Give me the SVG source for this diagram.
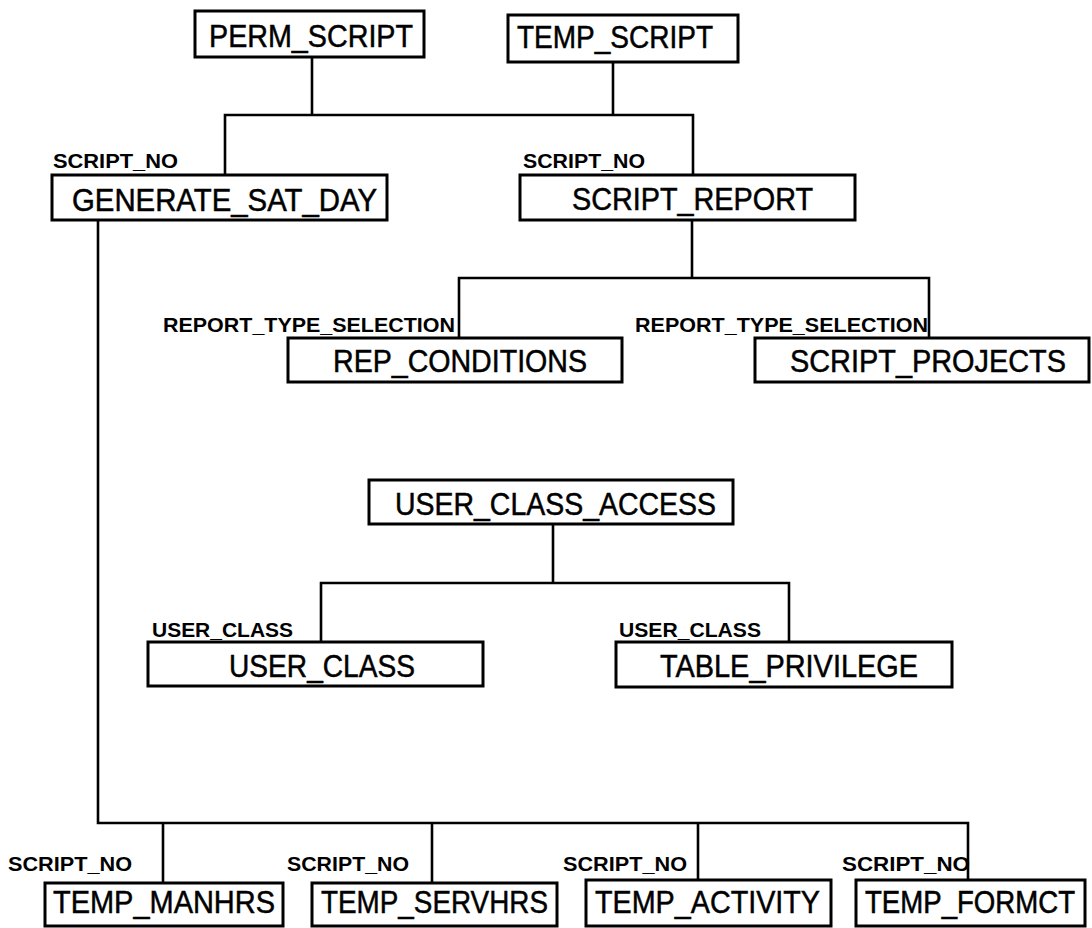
<svg xmlns="http://www.w3.org/2000/svg" width="1092" height="928" viewBox="0 0 1092 928">
<style>
.box{fill:#fff;stroke:#000;stroke-width:3}
.t{font-family:"Liberation Sans",Arial,sans-serif;font-size:31px;fill:#000;stroke:#000;stroke-width:0.5}
.tb{font-family:"Liberation Sans",Arial,sans-serif;font-size:32px;fill:#000;stroke:#000;stroke-width:0.5}
.lbl{font-family:"Liberation Sans",Arial,sans-serif;font-size:21px;font-weight:bold;fill:#000}
.c{fill:none;stroke:#000;stroke-width:2.6}
</style>
<rect width="1092" height="928" fill="#fff"/>
<g id="connectors">
<path class="c" d="M312,57 V115 M613,62 V115 M225,175 V115 H693 V175"/>
<path class="c" d="M692,220 V278 M459,338 V278 H929 V338"/>
<path class="c" d="M553,524 V583 M321,642 V583 H789 V642"/>
<path class="c" d="M98,220 V823 H968 V880 M163,823 V883 M432,823 V883 M698,823 V880"/>
</g>
<g id="PERM_SCRIPT">
<rect class="box" x="195" y="11" width="229" height="46"/>
<text class="t" x="209" y="47" textLength="204" lengthAdjust="spacingAndGlyphs">PERM_SCRIPT</text>
</g>
<g id="TEMP_SCRIPT">
<rect class="box" x="508" y="15" width="230" height="47"/>
<text class="t" x="517" y="48" textLength="196" lengthAdjust="spacingAndGlyphs">TEMP_SCRIPT</text>
</g>
<g id="GENERATE_SAT_DAY">
<text class="lbl" x="53" y="168" textLength="125" lengthAdjust="spacingAndGlyphs">SCRIPT_NO</text>
<rect class="box" x="52" y="175" width="335" height="45"/>
<text class="t" x="72" y="211" textLength="305" lengthAdjust="spacingAndGlyphs">GENERATE_SAT_DAY</text>
</g>
<g id="SCRIPT_REPORT">
<text class="lbl" x="523" y="168" textLength="122" lengthAdjust="spacingAndGlyphs">SCRIPT_NO</text>
<rect class="box" x="520" y="175" width="335" height="45"/>
<text class="t" x="572" y="210" textLength="241" lengthAdjust="spacingAndGlyphs">SCRIPT_REPORT</text>
</g>
<g id="REP_CONDITIONS">
<text class="lbl" x="163" y="332" textLength="292" lengthAdjust="spacingAndGlyphs">REPORT_TYPE_SELECTION</text>
<rect class="box" x="288" y="338" width="334" height="44"/>
<text class="t" x="333" y="372" textLength="254" lengthAdjust="spacingAndGlyphs">REP_CONDITIONS</text>
</g>
<g id="SCRIPT_PROJECTS">
<text class="lbl" x="635" y="332" textLength="293" lengthAdjust="spacingAndGlyphs">REPORT_TYPE_SELECTION</text>
<rect class="box" x="755" y="338" width="334" height="44"/>
<text class="t" x="790" y="372" textLength="276" lengthAdjust="spacingAndGlyphs">SCRIPT_PROJECTS</text>
</g>
<g id="USER_CLASS_ACCESS">
<rect class="box" x="369" y="480" width="364" height="44"/>
<text class="t" x="395" y="515" textLength="321" lengthAdjust="spacingAndGlyphs">USER_CLASS_ACCESS</text>
</g>
<g id="USER_CLASS">
<text class="lbl" x="152" y="637" textLength="141" lengthAdjust="spacingAndGlyphs">USER_CLASS</text>
<rect class="box" x="148" y="642" width="335" height="44"/>
<text class="t" x="229" y="677" textLength="186" lengthAdjust="spacingAndGlyphs">USER_CLASS</text>
</g>
<g id="TABLE_PRIVILEGE">
<text class="lbl" x="619" y="637" textLength="142" lengthAdjust="spacingAndGlyphs">USER_CLASS</text>
<rect class="box" x="616" y="642" width="336" height="45"/>
<text class="t" x="660" y="677" textLength="258" lengthAdjust="spacingAndGlyphs">TABLE_PRIVILEGE</text>
</g>
<g id="TEMP_MANHRS">
<text class="lbl" x="8" y="871" textLength="124" lengthAdjust="spacingAndGlyphs">SCRIPT_NO</text>
<rect class="box" x="45" y="883" width="238" height="43"/>
<text class="tb" x="53" y="913" textLength="222" lengthAdjust="spacingAndGlyphs">TEMP_MANHRS</text>
</g>
<g id="TEMP_SERVHRS">
<text class="lbl" x="287" y="871" textLength="122" lengthAdjust="spacingAndGlyphs">SCRIPT_NO</text>
<rect class="box" x="312" y="883" width="245" height="43"/>
<text class="tb" x="321" y="913" textLength="227" lengthAdjust="spacingAndGlyphs">TEMP_SERVHRS</text>
</g>
<g id="TEMP_ACTIVITY">
<text class="lbl" x="563" y="871" textLength="124" lengthAdjust="spacingAndGlyphs">SCRIPT_NO</text>
<rect class="box" x="586" y="880" width="245" height="46"/>
<text class="tb" x="595" y="913" textLength="225" lengthAdjust="spacingAndGlyphs">TEMP_ACTIVITY</text>
</g>
<g id="TEMP_FORMCT">
<text class="lbl" x="842" y="871" textLength="128" lengthAdjust="spacingAndGlyphs">SCRIPT_NO</text>
<rect class="box" x="856" y="880" width="229" height="46"/>
<text class="tb" transform="translate(865,913) scale(1,1.15)" x="0" y="0" style="font-size:28px" textLength="210" lengthAdjust="spacingAndGlyphs">TEMP_FORMCT</text>
</g>
</svg>
